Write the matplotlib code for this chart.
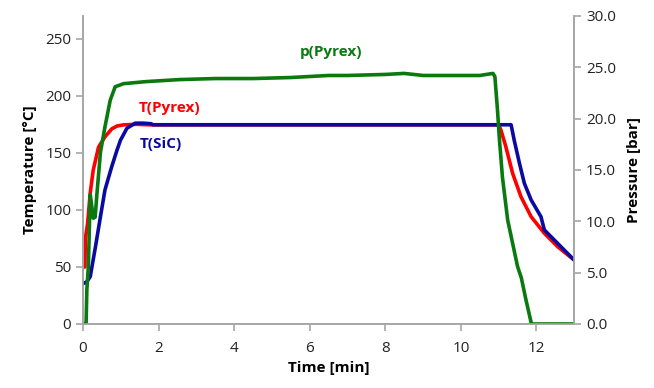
import numpy as np
import matplotlib
matplotlib.use('Agg')
import matplotlib.pyplot as plt

plt.rcParams['font.family'] = ['Open Sans', 'DejaVu Sans']

# T(Pyrex), °C
t_pyrex = [0.02, 0.05, 0.06, 0.12, 0.19, 0.27, 0.41, 0.58, 0.76, 0.9, 1.07, 1.4, 1.82,
           5.0, 11.0, 11.06, 11.19, 11.37, 11.59, 11.86, 12.21, 12.56, 13.0]
T_pyrex = [50, 50, 75, 88, 115, 135, 155, 164, 171, 173.5, 174.5, 175, 174.5,
           174.5, 174.5, 170, 155.4, 132, 111.6, 94, 79.5, 67.8, 56]

# T(SiC), °C
t_sic = [0.02, 0.1, 0.19, 0.33, 0.46, 0.58, 0.76, 0.9, 0.99, 1.16, 1.38, 1.6, 1.8, 1.85,
         5.0, 11.33, 11.41, 11.55, 11.68, 11.86, 12.12, 12.21, 12.56, 13.0]
T_sic = [35.7, 37, 41.5, 68, 94, 117.5, 138, 152.5, 161, 171.5, 176, 176, 175.5, 174.6,
         174.6, 174.6, 161.3, 140.9, 123.3, 108.7, 94, 82.4, 70.7, 56]

# p(Pyrex), bar
t_p = [0.06, 0.08, 0.1, 0.14, 0.19, 0.23, 0.27, 0.32, 0.37, 0.46, 0.58, 0.72, 0.85, 1.07,
       1.66, 2.55, 3.5, 4.5, 5.5, 6.5, 7.0, 8.0, 8.5, 9.0, 10.0, 10.5, 10.85, 10.9,
       10.97, 11.02, 11.1, 11.24, 11.5, 11.6, 11.72, 11.85, 11.87, 13.0]
p = [0.0, 0.0, 3.3, 5.6, 12.6, 11.5, 10.3, 10.4, 12.8, 16.7, 19.2, 21.8, 23.1, 23.4,
     23.6, 23.8, 23.9, 23.9, 24.0, 24.2, 24.2, 24.3, 24.4, 24.2, 24.2, 24.2, 24.4, 24.1,
     20.8, 18.0, 14.3, 10.1, 5.6, 4.5, 2.4, 0.3, 0.0, 0.0]

red = '#ff0000'
blue = '#0a0aa0'
green = '#0a7a10'
spine = '#a6a6a6'

fig = plt.figure(figsize=(6.54, 3.88), dpi=100)
ax = fig.add_axes([0.127, 0.165, 0.751, 0.794])
ax2 = ax.twinx()

ax.plot(t_pyrex, T_pyrex, color=red, lw=2.6, zorder=2)
ax.plot(t_sic, T_sic, color=blue, lw=2.6, zorder=3)
ax2.plot(t_p, p, color=green, lw=2.6)

ax.set_xlim(0, 13)
ax.set_ylim(0, 270)
ax2.set_ylim(0, 30)
ax.set_xticks(range(0, 13, 2))
ax.set_yticks(range(0, 251, 50))
ax2.set_yticks(np.arange(0, 30.1, 5))
ax2.set_yticklabels(['%.1f' % v for v in np.arange(0, 30.1, 5)])

for a in (ax, ax2):
    for s in a.spines.values():
        s.set_color(spine)
        s.set_linewidth(1.2)
    a.spines['top'].set_visible(False)
    a.tick_params(colors=spine, labelcolor='#222222', labelsize=11, length=5, width=1.2)
ax.tick_params(axis='x', pad=7)

ax.set_xlabel('Time [min]', fontsize=11, fontweight='bold', labelpad=4)
ax.set_ylabel('Temperature [°C]', fontsize=11, fontweight='bold', labelpad=6)
ax2.set_ylabel('Pressure [bar]', fontsize=11, fontweight='bold', labelpad=8)

ax.text(6.55, 238, 'p(Pyrex)', color=green, fontsize=11, fontweight='bold', ha='center', va='center')
ax.text(2.28, 189, 'T(Pyrex)', color=red, fontsize=11, fontweight='bold', ha='center', va='center')
ax.text(2.05, 158, 'T(SiC)', color=blue, fontsize=11, fontweight='bold', ha='center', va='center')

ax2.set_zorder(ax.get_zorder() + 1)
ax2.patch.set_visible(False)

fig.savefig('out.png', dpi=100)
